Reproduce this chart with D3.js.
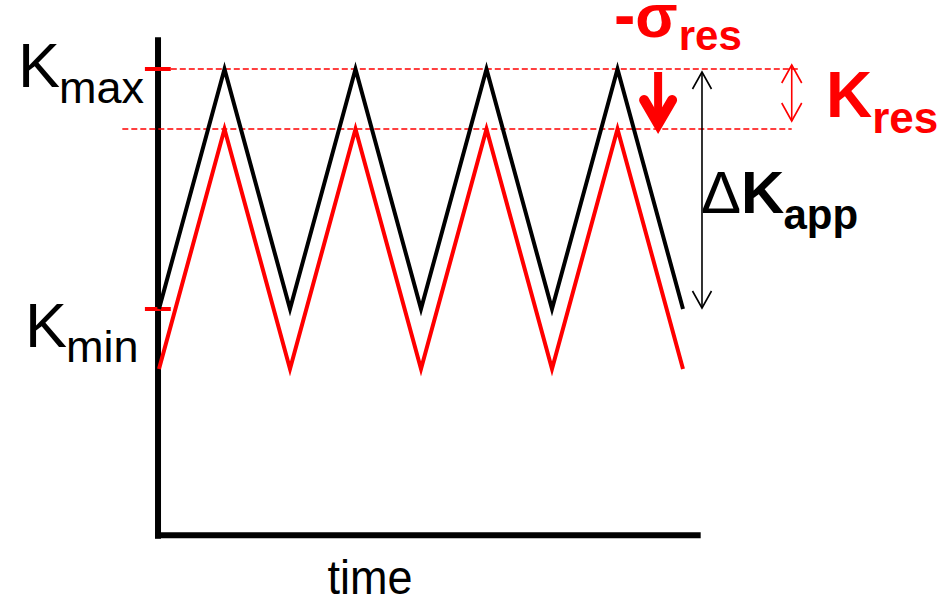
<!DOCTYPE html>
<html>
<head>
<meta charset="utf-8">
<script src="https://cdn.jsdelivr.net/npm/d3@7"></script>
<style>
	html, body { margin: 0; padding: 0; background: #fff; }
	svg { display: block; }
	text { font-family: Arial, "Liberation Sans", sans-serif; }
</style>
</head>
<body>
<svg id="chart" width="937" height="603"></svg>
<script>
// half-cycle time steps of the loading signal
const timeSteps = [0, 1, 2, 3, 4, 5, 6, 7, 8]
// applied stress intensity (black) and effective one after residual stress (red)
const appliedK = [0, 4, 0, 4, 0, 4, 0, 4, 0]
const effectiveK = [-1, 3, -1, 3, -1, 3, -1, 3, -1]
// named levels on the K axis
const levelNames = ["max", "min"]
const levelValues = [4, 0]
const kRes = 1
const axisTitle = "time"

const red = "#ff0000"
const svg = d3.select("#chart")

const x = d3.scaleLinear().domain([0, 8]).range([159, 683])
const y = d3.scaleLinear().domain([0, 4]).range([309, 69])

const kMax = levelValues[0]
const kMin = levelValues[1]

/* Axes: plain thick lines */
svg.append("line")
	.attr("x1", x(-0.015)).attr("x2", x(-0.015))
	.attr("y1", y(4.53)).attr("y2", y(-3.83))
	.attr("stroke", "#000").attr("stroke-width", 6)
svg.append("line")
	.attr("x1", x(-0.06)).attr("x2", x(8.27))
	.attr("y1", y(-3.77)).attr("y2", y(-3.77))
	.attr("stroke", "#000").attr("stroke-width", 6)

/* Dashed reference lines */
svg.append("line")
	.attr("x1", x(0.18)).attr("x2", x(9.77))
	.attr("y1", y(kMax)).attr("y2", y(kMax))
	.attr("stroke", red).attr("stroke-width", 1.6)
	.attr("stroke-dasharray", "6,3")
svg.append("line")
	.attr("x1", x(-0.56)).attr("x2", x(9.66))
	.attr("y1", y(kMax - kRes)).attr("y2", y(kMax - kRes))
	.attr("stroke", red).attr("stroke-width", 1.6)
	.attr("stroke-dasharray", "6,3")

/* Level ticks on the K axis */
svg.selectAll("line.levelTick")
	.data(levelValues)
	.join("line")
	.attr("class", "levelTick")
	.attr("x1", x(-0.215)).attr("x2", x(0.18))
	.attr("y1", d => y(d)).attr("y2", d => y(d))
	.attr("stroke", red).attr("stroke-width", 4)

/* Waves */
const line = d3.line()
	.x((d, i) => x(timeSteps[i]))
	.y(d => y(d))

svg.append("path")
	.datum(effectiveK)
	.attr("d", line)
	.attr("fill", "none").attr("stroke", red).attr("stroke-width", 4)
	.attr("stroke-linejoin", "miter")
svg.append("path")
	.datum(appliedK)
	.attr("d", line)
	.attr("fill", "none").attr("stroke", "#000").attr("stroke-width", 4)
	.attr("stroke-linejoin", "miter")

/* Arrows */
function doubleArrow(cx, y1, y2, colour, w, h) {
	const g = svg.append("g")
		.attr("fill", "none").attr("stroke", colour).attr("stroke-width", 1.6)
	g.append("line").attr("x1", cx).attr("x2", cx).attr("y1", y1).attr("y2", y2)
	g.append("path").attr("d", `M${cx - w},${y1 + h}L${cx},${y1}L${cx + w},${y1 + h}`)
	g.append("path").attr("d", `M${cx - w},${y2 - h}L${cx},${y2}L${cx + w},${y2 - h}`)
}
// delta K applied
doubleArrow(x(8.29), y(kMax) + 3, y(kMin) - 1, "#000", 9.5, 17)
// K res
doubleArrow(x(9.66), y(kMax) - 4, y(kMax - kRes) - 8, red, 10, 18)

// residual stress shift: bold red arrow
const ax = x(7.62)
svg.append("line")
	.attr("x1", ax).attr("x2", ax)
	.attr("y1", y(kMax) + 3).attr("y2", y(kMax - kRes) - 10)
	.attr("stroke", red).attr("stroke-width", 8)
svg.append("path")
	.attr("d", `M${ax - 14},${y(kMax) + 31}L${ax},${y(kMax - kRes) - 5}L${ax + 14},${y(kMax) + 31}`)
	.attr("fill", "none").attr("stroke", red).attr("stroke-width", 10)
	.attr("stroke-linecap", "round").attr("stroke-linejoin", "miter")

/* Labels */
function label(px, py, parts, colour) {
	const t = svg.append("text")
		.attr("x", px).attr("y", py)
		.attr("fill", colour)
	parts.forEach(p => {
		const s = t.append("tspan")
			.text(p.text)
			.style("font-size", `${p.size}px`)
			.style("font-weight", p.bold ? "bold" : "normal")
		if (p.dy) s.attr("dy", p.dy)
		if (p.dx) s.attr("dx", p.dx)
	})
	return t
}

label(18, 87, [
	{ text: "K", size: 63 },
	{ text: levelNames[0], size: 45, dy: 16, dx: -1 },
], "#000")
label(25, 347, [
	{ text: "K", size: 63 },
	{ text: levelNames[1], size: 45, dy: 15, dx: -1 },
], "#000")

label(701, 213, [
	{ text: "Δ", size: 60 },
	{ text: "K", size: 60, bold: true },
	{ text: "app", size: 42, bold: true, dy: 16, dx: -1 },
], "#000")

label(826, 117, [
	{ text: "K", size: 64, bold: true },
	{ text: "res", size: 44, bold: true, dy: 16 },
], red)

label(614, 37, [
	{ text: "-", size: 64, bold: true },
	{ text: "σ", size: 62, bold: true },
	{ text: "res", size: 42, bold: true, dy: 13, dx: 1 },
], red)

svg.append("text")
	.attr("x", 370).attr("y", 594)
	.attr("text-anchor", "middle")
	.attr("textLength", 85)
	.attr("lengthAdjust", "spacingAndGlyphs")
	.style("font-size", "48px")
	.text(axisTitle)
</script>
</body>
</html>
